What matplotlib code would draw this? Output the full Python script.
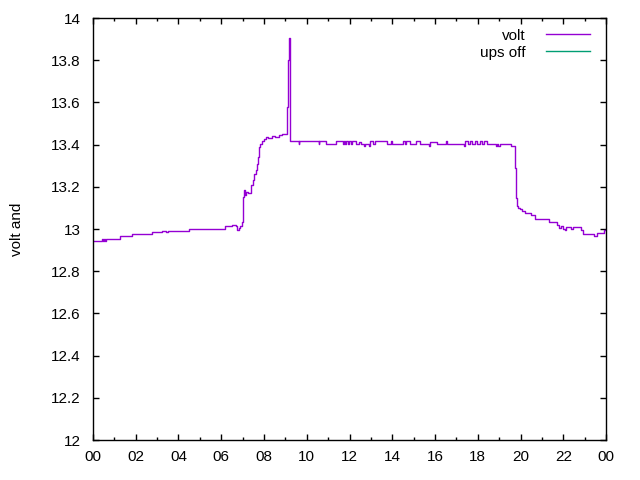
import matplotlib
matplotlib.use("Agg")
import matplotlib.pyplot as plt
from matplotlib.ticker import MultipleLocator

plt.rcParams['font.family'] = ['Liberation Sans', 'DejaVu Sans']

# time of day in hours, voltage readings (step changes)
hours = [
    0.00, 0.41, 0.47, 0.51, 0.56, 0.61, 1.26, 1.81, 2.75, 3.21, 3.42, 3.49,
    4.51, 6.18, 6.49, 6.69, 6.75, 6.81, 6.88, 6.95, 7.00, 7.03, 7.08, 7.11,
    7.16, 7.25, 7.39, 7.47, 7.53, 7.61, 7.66, 7.71, 7.77, 7.81, 7.89, 8.00,
    8.09, 8.19, 8.36, 8.51, 8.72, 8.84, 9.06, 9.11, 9.14, 9.17, 9.20, 9.23,
    9.62, 9.66, 10.55, 10.59, 10.90, 11.37, 11.68, 11.73, 11.80, 11.85, 11.92,
    11.97, 12.08, 12.14, 12.30, 12.45, 12.55, 12.68, 12.72, 12.92, 12.96,
    13.12, 13.17, 13.74, 13.94, 14.00, 14.49, 14.60, 14.66, 14.83, 15.11,
    15.30, 15.72, 15.77, 16.08, 16.50, 16.58, 17.35, 17.40, 17.55, 17.65,
    17.75, 17.85, 17.95, 18.10, 18.20, 18.30, 18.42, 18.84, 18.92, 18.96,
    19.04, 19.56, 19.73, 19.77, 19.82, 19.90, 19.98, 20.05, 20.21, 20.48,
    20.68, 21.35, 21.72, 21.82, 21.88, 22.00, 22.08, 22.13, 22.35, 22.44,
    22.81, 22.94, 23.44, 23.56, 23.90, 24.00,
]
volt = [
    12.945, 12.955, 12.945, 12.955, 12.945, 12.955, 12.965, 12.975, 12.985,
    12.99, 12.985, 12.99, 13.0, 13.012, 13.02, 13.015, 12.995, 13.005, 13.015,
    13.035, 13.06, 13.15, 13.185, 13.16, 13.175, 13.17, 13.21, 13.23, 13.26,
    13.28, 13.31, 13.34, 13.39, 13.405, 13.415, 13.425, 13.435, 13.43, 13.44,
    13.435, 13.445, 13.45, 13.58, 13.66, 13.80, 13.905, 13.66, 13.415,
    13.405, 13.415, 13.405, 13.415, 13.405, 13.415, 13.405, 13.415, 13.405,
    13.415, 13.405, 13.415, 13.405, 13.415, 13.405, 13.41, 13.405, 13.395,
    13.405, 13.395, 13.415, 13.405, 13.415, 13.405, 13.415, 13.405, 13.415,
    13.405, 13.415, 13.405, 13.415, 13.405, 13.395, 13.41, 13.405, 13.415,
    13.405, 13.395, 13.415, 13.405, 13.415, 13.405, 13.415, 13.405, 13.415,
    13.405, 13.415, 13.405, 13.395, 13.405, 13.395, 13.405, 13.395, 13.29,
    13.146, 13.11, 13.10, 13.093, 13.085, 13.075, 13.066, 13.047, 13.035,
    13.02, 13.006, 13.012, 13.0, 12.995, 13.01, 12.998, 13.01, 12.995,
    12.975, 12.967, 12.98, 12.995, 12.995,
]
ups_off_hours = []
ups_off = []

xtick_pos = list(range(0, 25, 2))
xtick_labels = ["00", "02", "04", "06", "08", "10", "12", "14", "16", "18", "20", "22", "00"]

fig = plt.figure(figsize=(6.4, 4.8), dpi=100)
ax = fig.add_axes([0.1453, 0.0833, 0.8016, 0.8792])

ax.step(hours, volt, where='post', color='#9400D3', lw=1.0, label='volt')
ax.plot(ups_off_hours, ups_off, color='#009E73', lw=1.0, label='ups off')

ax.set_xlim(0, 24)
ax.set_ylim(12, 14)
ax.set_xticks(xtick_pos)
ax.set_xticklabels(xtick_labels)
ax.xaxis.set_minor_locator(MultipleLocator(1))
ax.yaxis.set_major_locator(MultipleLocator(0.2))
ax.yaxis.set_major_formatter(plt.FuncFormatter(lambda v, p: f"{v:g}"))

ax.tick_params(which='both', direction='in', top=True, right=True, labelsize=11, width=1.0)
ax.tick_params(which='major', length=4.5)
ax.tick_params(which='minor', length=2.5)
ax.tick_params(axis='y', pad=9)
ax.tick_params(axis='x', pad=7)
for s in ax.spines.values():
    s.set_linewidth(1.0)

ax.set_ylabel('volt and', fontsize=11, labelpad=19)

ax.legend(loc='upper right', bbox_to_anchor=(0.99, 1.0), frameon=False, markerfirst=False,
          fontsize=11, handlelength=2.9, handletextpad=1.3, labelspacing=0.2,
          borderaxespad=0.3)

fig.savefig('out.png', dpi=100)
